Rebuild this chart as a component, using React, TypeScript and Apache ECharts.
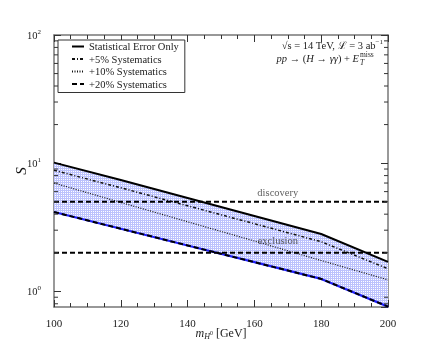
import React, { useEffect, useRef } from 'react';
import * as echarts from 'echarts';

const massGeV = [100, 120, 140, 160, 180, 200];
const statOnly = [10.1, 7.39, 5.35, 3.87, 2.8, 1.7];
const syst5 = [8.8, 6.43, 4.65, 3.37, 2.44, 1.5];
const syst10 = [7.0, 4.94, 3.49, 2.47, 1.74, 1.23];
const syst20 = [4.16, 3.08, 2.28, 1.69, 1.25, 0.76];
const discoveryLevel = 5;
const exclusionLevel = 2;
const thresholdLabels = ['discovery', 'exclusion'];
const labelMass = 167;
const legendNames = ['Statistical Error Only', '+5% Systematics', '+10% Systematics', '+20% Systematics'];
const yMinorTicks = [0.8, 0.9, 2, 3, 4, 5, 6, 7, 8, 9, 20, 30, 40, 50, 60, 70, 80, 90];
const xRange = [100, 200];
const yRange = [0.755, 100];
const xTickInterval = 20;

const FONT = '"Liberation Serif", "DejaVu Serif", serif';

function pts(xs: number[], ys: number[]) {
  return xs.map((x, i) => [x, ys[i]]);
}

function makePattern() {
  const c = document.createElement('canvas');
  c.width = 2;
  c.height = 2;
  const ctx = c.getContext('2d')!;
  ctx.fillStyle = '#ffffff';
  ctx.fillRect(0, 0, 2, 2);
  ctx.fillStyle = '#bcc2fd';
  ctx.fillRect(0, 0, 2, 1);
  ctx.fillRect(0, 0, 1, 2);
  return { image: c, repeat: 'repeat' };
}

export default function App() {
  const ref = useRef<HTMLDivElement>(null);
  useEffect(() => {
    if (!ref.current) return;
    const chart = echarts.init(ref.current, null, { renderer: 'svg' });
    const pattern = makePattern();
    const axisLine = { show: true, lineStyle: { color: '#777', width: 1.5 } };
    const xCommon = {
      type: 'value',
      min: xRange[0],
      max: xRange[1],
      interval: xTickInterval,
      axisLine,
      axisTick: { show: true, inside: true, length: 7, lineStyle: { color: '#333', width: 1 } },
      minorTick: { show: true, splitNumber: 4, length: 4, lineStyle: { color: '#333', width: 1 } },
      splitLine: { show: false },
      minorSplitLine: { show: false },
    };
    const yCommon = {
      type: 'log',
      logBase: 10,
      min: yRange[0],
      max: yRange[1],
      axisLine,
      axisTick: { show: true, inside: true, length: 7, lineStyle: { color: '#333', width: 1 } },
      splitLine: { show: false },
    };
    const lineBase = { type: 'line', symbol: 'none', showSymbol: false, silent: true, xAxisIndex: 0, yAxisIndex: 0 };
    chart.setOption({
      animation: false,
      textStyle: { fontFamily: FONT },
      grid: { left: 54, right: 44, top: 35, bottom: 35, containLabel: false, outerBoundsMode: 'none' },
      xAxis: [
        {
          ...xCommon,
          position: 'bottom',
          axisLabel: { margin: 10, fontSize: 11, color: '#222', fontFamily: FONT },
          name: '{i|m}{sub|H}{sup|0} {n|[GeV]}',
          nameLocation: 'middle',
          nameGap: 19,
          nameMoveOverlap: false,
          nameTextStyle: {
            rich: {
              i: { fontSize: 12, fontStyle: 'italic', fontFamily: FONT, color: '#222', lineHeight: 14 },
              sub: { fontSize: 8, fontStyle: 'italic', fontFamily: FONT, color: '#222', verticalAlign: 'bottom', lineHeight: 14 },
              sup: { fontSize: 6, fontFamily: FONT, color: '#222', verticalAlign: 'middle', lineHeight: 14 },
              n: { fontSize: 12, fontFamily: FONT, color: '#222', lineHeight: 14 },
            },
          },
        },
        { ...xCommon, position: 'top', axisLabel: { show: false } },
      ],
      yAxis: [
        {
          ...yCommon,
          position: 'left',
          axisLabel: {
            margin: 13,
            showMinLabel: false,
            formatter: (v: number) => {
              const e = Math.log10(v);
              if (Math.abs(e - Math.round(e)) > 1e-6) return '';
              return `{b|10}{e|${Math.round(e)}}`;
            },
            rich: {
              b: { fontSize: 10.5, fontFamily: FONT, color: '#222', lineHeight: 14 },
              e: { fontSize: 7, fontFamily: FONT, color: '#222', verticalAlign: 'top', lineHeight: 14 },
            },
          },
          name: 'S',
          nameLocation: 'middle',
          nameRotate: 90,
          nameGap: 26,
          nameMoveOverlap: false,
          nameTextStyle: { fontSize: 15, fontStyle: 'italic', fontFamily: FONT, color: '#111' },
        },
        { ...yCommon, position: 'right', axisLabel: { show: false } },
      ],
      legend: {
        orient: 'vertical',
        left: 58,
        top: 40,
        data: legendNames,
        itemWidth: 12,
        itemHeight: 8,
        itemGap: 1.5,
        itemTextGap: 6,
        padding: [1, 6, 3, 13],
        borderColor: '#333',
        borderWidth: 1,
        backgroundColor: '#fff',
        selectedMode: false,
        itemStyle: { opacity: 0 },
        textStyle: { fontSize: 10.5, fontFamily: FONT, color: '#222', lineHeight: 11 },
      },
      graphic: [
        {
          type: 'text',
          x: 383,
          y: 45,
          style: {
            text: '{n|√s = 14 TeV, }{i|ℒ}{n| = 3 ab}{s|−1}',
            align: 'right',
            verticalAlign: 'middle',
            rich: {
              n: { fontSize: 10.5, fontFamily: FONT, fill: '#222', lineHeight: 13 },
              i: { fontSize: 10.5, fontFamily: FONT, fill: '#222', lineHeight: 13 },
              s: { fontSize: 7, fontFamily: FONT, fill: '#222', verticalAlign: 'top', lineHeight: 13 },
            },
          },
        },
        {
          type: 'text',
          x: 359,
          y: 58.5,
          style: {
            text: '{i|pp}{n| → (}{i|H}{n| → }{i|γγ}{n|) + }{i|E}',
            align: 'right',
            verticalAlign: 'middle',
            rich: {
              n: { fontSize: 10.5, fontFamily: FONT, fill: '#222' },
              i: { fontSize: 10.5, fontStyle: 'italic', fontFamily: FONT, fill: '#222' },
            },
          },
        },
        {
          type: 'text',
          x: 360,
          y: 54,
          style: { text: 'miss', fontSize: 7.5, fontFamily: FONT, fill: '#222', align: 'left', verticalAlign: 'middle' },
        },
        {
          type: 'text',
          x: 360,
          y: 62.5,
          style: { text: 'T', fontSize: 7.5, fontStyle: 'italic', fontFamily: FONT, fill: '#222', align: 'left', verticalAlign: 'middle' },
        },
      ],
      series: [
        {
          type: 'custom',
          name: 'band',
          silent: true,
          z: 1,
          data: [[massGeV[0], statOnly[0]]],
          renderItem: (params: any, api: any) => {
            const poly: number[][] = [];
            massGeV.forEach((m, i) => poly.push(api.coord([m, statOnly[i]])));
            for (let i = massGeV.length - 1; i >= 0; i--) poly.push(api.coord([massGeV[i], syst20[i]]));
            return { type: 'polygon', shape: { points: poly }, style: { fill: pattern, stroke: 'none' } };
          },
        },
        {
          ...lineBase,
          name: 'band lower',
          data: pts(massGeV, syst20),
          z: 3,
          lineStyle: { color: '#1f1fff', width: 2.2 },
        },
        {
          ...lineBase,
          name: legendNames[0],
          data: pts(massGeV, statOnly),
          z: 4,
          itemStyle: { color: '#000' },
          lineStyle: { color: '#000', width: 2 },
        },
        {
          ...lineBase,
          name: legendNames[1],
          data: pts(massGeV, syst5),
          z: 4,
          itemStyle: { color: '#000' },
          lineStyle: { color: '#111', width: 1.5, type: [3, 2, 1, 2] },
        },
        {
          ...lineBase,
          name: legendNames[2],
          data: pts(massGeV, syst10),
          z: 4,
          itemStyle: { color: '#000' },
          lineStyle: { color: '#111', width: 1.2, type: [1, 1.5] },
        },
        {
          ...lineBase,
          name: legendNames[3],
          data: pts(massGeV, syst20),
          z: 4,
          itemStyle: { color: '#000' },
          lineStyle: { color: '#000', width: 2, type: [5, 3] },
        },
        {
          ...lineBase,
          name: 'discovery line',
          data: [[xRange[0], discoveryLevel], [xRange[1], discoveryLevel]],
          z: 5,
          lineStyle: { color: '#000', width: 2, type: [5, 3] },
        },
        {
          ...lineBase,
          name: 'exclusion line',
          data: [[xRange[0], exclusionLevel], [xRange[1], exclusionLevel]],
          z: 5,
          lineStyle: { color: '#000', width: 2, type: [5, 3] },
        },
        {
          type: 'scatter',
          name: 'threshold labels',
          silent: true,
          symbolSize: 1,
          itemStyle: { color: 'rgba(0,0,0,0)' },
          z: 6,
          data: [
            { value: [labelMass, discoveryLevel], label: { show: true, position: 'top', distance: 3, formatter: thresholdLabels[0] } },
            { value: [labelMass, exclusionLevel], label: { show: true, position: 'top', distance: 6, formatter: thresholdLabels[1] } },
          ],
          label: { fontSize: 10.5, fontFamily: FONT, color: '#333' },
        },
        {
          type: 'custom',
          name: 'minor y ticks',
          silent: true,
          z: 7,
          clip: false,
          data: yMinorTicks.map((v) => [xRange[0], v]),
          renderItem: (params: any, api: any) => {
            const v = api.value(1);
            const l = api.coord([xRange[0], v]);
            const r = api.coord([xRange[1], v]);
            return {
              type: 'group',
              children: [
                { type: 'line', shape: { x1: l[0], y1: l[1], x2: l[0] + 4, y2: l[1] }, style: { stroke: '#333', lineWidth: 1 } },
                { type: 'line', shape: { x1: r[0], y1: r[1], x2: r[0] - 4, y2: r[1] }, style: { stroke: '#333', lineWidth: 1 } },
              ],
            };
          },
        },
      ],
    });
    return () => chart.dispose();
  }, []);
  return <div ref={ref} style={{ position: 'fixed', left: 0, top: 0, width: 432, height: 342 }} />;
}
